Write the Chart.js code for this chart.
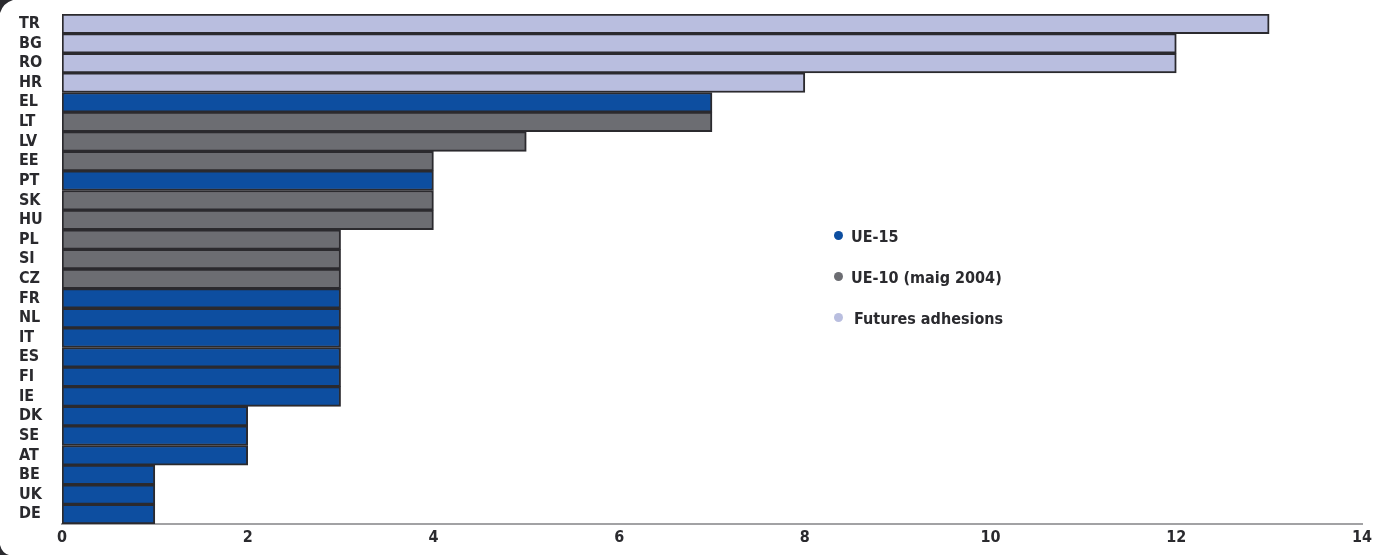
<!DOCTYPE html>
<html>
<head>
<meta charset="utf-8">
<script src="https://cdn.jsdelivr.net/npm/chart.js@4"></script>
<style>
  html, body { margin: 0; padding: 0; background: #fff; }
  #wrap { position: relative; width: 1396px; height: 555px; }
  #legend { position: absolute; left: 832px; top: 226px; font: bold 16px "DejaVu Sans Condensed", "DejaVu Sans", sans-serif; color: #2a2a2e; }
  #legend div { position: relative; height: 41px; padding-left: 19px; line-height: 22px; }
  #legend div.last { padding-left: 22px; }
  #legend span.dot { position: absolute; left: 2px; top: 5px; width: 9px; height: 9px; border-radius: 50%; }
</style>
</head>
<body>
<div id="wrap">
  <canvas id="chart" width="1396" height="555"></canvas>
  <div id="legend"></div>
</div>
<script>
// pays, valeur et groupe d'adhésion
const countries = ['TR', 'BG', 'RO', 'HR', 'EL', 'LT', 'LV', 'EE', 'PT', 'SK', 'HU', 'PL', 'SI',
  'CZ', 'FR', 'NL', 'IT', 'ES', 'FI', 'IE', 'DK', 'SE', 'AT', 'BE', 'UK', 'DE'];
const values = [13, 12, 12, 8, 7, 7, 5, 4, 4, 4, 4, 3, 3, 3, 3, 3, 3, 3, 3, 3, 2, 2, 2, 1, 1, 1];
const groups = ['fut', 'fut', 'fut', 'fut', 'ue15', 'ue10', 'ue10', 'ue10', 'ue15', 'ue10', 'ue10',
  'ue10', 'ue10', 'ue10', 'ue15', 'ue15', 'ue15', 'ue15', 'ue15', 'ue15', 'ue15', 'ue15', 'ue15',
  'ue15', 'ue15', 'ue15'];
const xTicks = [0, 2, 4, 6, 8, 10, 12, 14];

const groupNames = ['ue15', 'ue10', 'fut'];
const groupLabels = ['UE-15', 'UE-10 (maig 2004)', 'Futures adhesions'];
const groupColors = { ue15: '#0d4ea0', ue10: '#6c6d72', fut: '#b9bedf' };

const font = { family: '"DejaVu Sans Condensed", "DejaVu Sans", sans-serif', size: 16, weight: 'bold' };

// petits coins sombres du cadre
const corners = {
  id: 'corners',
  afterDraw(chart) {
    const c = chart.ctx;
    const h = chart.height;
    c.save();
    c.fillStyle = '#2a2a2e';
    c.beginPath();
    c.moveTo(0, 0); c.lineTo(13, 0); c.quadraticCurveTo(3, 3, 0, 13); c.closePath();
    c.fill();
    c.beginPath();
    c.moveTo(0, h); c.lineTo(9, h); c.quadraticCurveTo(2, h - 2, 0, h - 10); c.closePath();
    c.fill();
    c.restore();
  }
};

new Chart(document.getElementById('chart'), {
  type: 'bar',
  data: {
    labels: countries,
    datasets: [{
      data: values,
      backgroundColor: groups.map(g => groupColors[g]),
      borderColor: '#2b2a2e',
      borderWidth: 2,
      borderSkipped: false,
      barPercentage: 1,
      categoryPercentage: 1
    }]
  },
  options: {
    indexAxis: 'y',
    responsive: false,
    animation: false,
    layout: { padding: { left: 19, top: 14, right: 34, bottom: 0 } },
    plugins: { legend: { display: false }, tooltip: { enabled: false } },
    scales: {
      x: {
        min: 0, max: 14,
        afterBuildTicks: axis => { axis.ticks = xTicks.map(v => ({ value: v })); },
        afterFit: axis => { axis.height = 31; },
        grid: { display: false, drawTicks: false },
        border: { color: '#a2a2a4', width: 2 },
        ticks: { font, color: '#2a2a2e', padding: 4 }
      },
      y: {
        afterFit: axis => { axis.width = 43; },
        grid: { display: false, drawTicks: false },
        border: { display: false },
        ticks: { font, color: '#2a2a2e', crossAlign: 'far', autoSkip: false, padding: 0 }
      }
    }
  },
  plugins: [corners]
});

document.getElementById('legend').innerHTML = groupNames.map((g, i) =>
  `<div${i === groupNames.length - 1 ? ' class="last"' : ''}><span class="dot" style="background:${groupColors[g]}"></span>${groupLabels[i]}</div>`
).join('');
</script>
</body>
</html>
